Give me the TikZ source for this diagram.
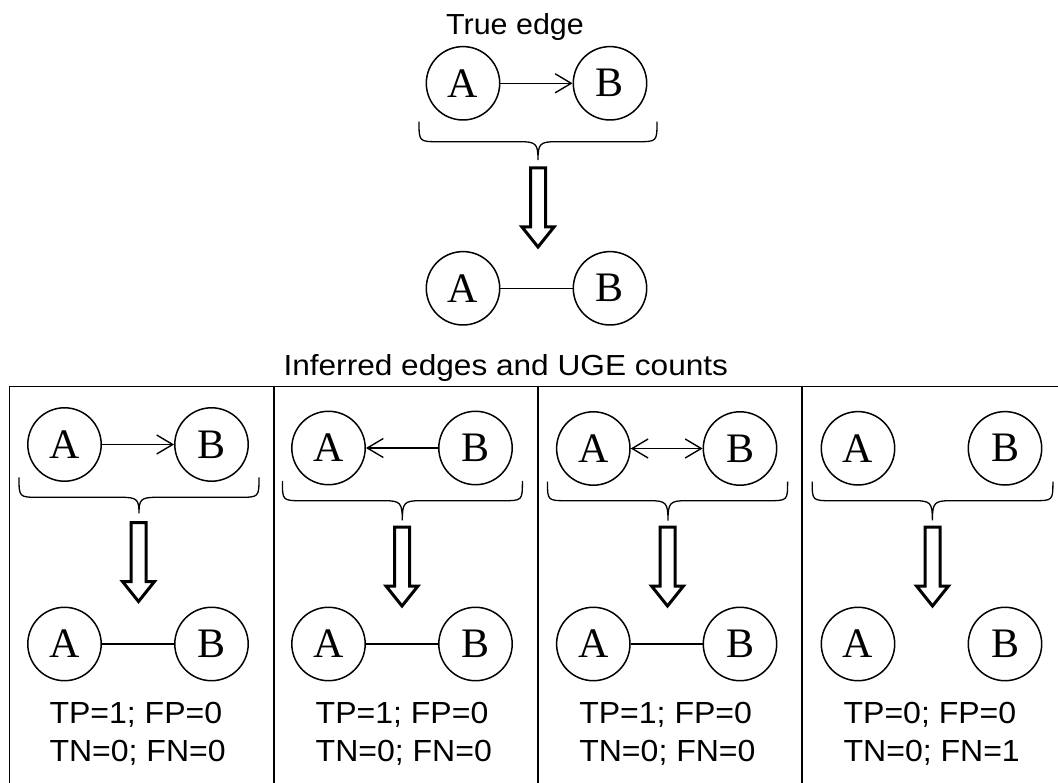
\documentclass[tikz,border=0pt]{standalone}
\usepackage{fontspec}
\setmainfont{Liberation Serif}
\newfontfamily\labelsans{Liberation Sans}
\usetikzlibrary{arrows.meta}
\newcommand\hstretch[2]{\scalebox{#1}[1]{#2}}
% curly brace opening downwards: left x, tip x, right x, end y, bar y, tip y
\newcommand\downbrace[6]{%
  \draw[brace] (#1,#4) .. controls (#1,#5) and (#1,#5) .. (#1+20,#5)
    -- (#2-18,#5) .. controls (#2-2,#5) and (#2,#5+2) .. (#2,#6)
    .. controls (#2,#5+2) and (#2+2,#5) .. (#2+18,#5)
    -- (#3-20,#5) .. controls (#3,#5) and (#3,#5) .. (#3,#4);}
\tikzset{
  var/.style={circle, draw, line width=1.5pt, minimum size=73.4pt, inner sep=0pt,
    font=\fontsize{42}{42}\selectfont},
  link/.style={line width=1.4pt},
  >={Straight Barb[length=16pt,width=19pt]},
  brace/.style={line width=1.3pt},
  frame/.style={line width=1.4pt},
  bigdown/.pic={\draw[line width=3pt, miter limit=10]
    (-7.5,0) -- (7.5,0) -- (7.5,59) -- (16,59) -- (0,79) -- (-16,59) -- (-7.5,59) -- cycle;},
  caption/.style={font=\labelsans\fontsize{29}{29}\selectfont, inner sep=0pt, anchor=base},
  count/.style={font=\labelsans\fontsize{30.5}{30.5}\selectfont, inner sep=0pt, anchor=base west},
}
\begin{document}
\begin{tikzpicture}[x=1pt, y=-1pt]
\useasboundingbox (0,0) rectangle (1058,783);
\clip (0,0) rectangle (1058,783);

% ---- true edge ----
\node[caption] (truecap) at (515,35) {\hstretch{1.05}{True edge}};
\node[var] (tA) at (463,83.3) {A};
\node[var] (tB) at (610,83.3) {B};
\draw[link,->] (tA) -- (tB);
\downbrace{419}{538}{657}{121.7}{141.7}{160}
\pic at (538,168) {bigdown};
\node[var] (uA) at (463,288.3) {A};
\node[var] (uB) at (610,288.3) {B};
\draw[link] (uA) -- (uB);

% ---- inferred edges ----
\node[caption] (infcap) at (505.8,375.7) {\hstretch{1.09}{Inferred edges and UGE counts}};
\draw[frame] (9.3,386.7) -- (1070,386.7);
\draw[frame] (9.3,386.7) -- (9.3,800);
\draw[frame] (274,386.7) -- (274,800);
\draw[frame] (538,386.7) -- (538,800);
\draw[frame] (802,386.7) -- (802,800);

% panel 1: A -> B
\node[var] (p1A) at (64.5,444.5) {A};
\node[var] (p1B) at (211.5,444.5) {B};
\draw[link,->] (p1A) -- (p1B);
\downbrace{19}{139}{259}{477.3}{497.3}{513.3}
\pic at (138.5,522.5) {bigdown};
\node[var] (q1A) at (64.5,644) {A};
\node[var] (q1B) at (211.5,644) {B};
\draw[link] (q1A) -- (q1B);
\node[count] (c1a) at (49.3,723.3) {\hstretch{1.05}{TP=1; FP=0}};
\node[count] (c1b) at (49.3,761.7) {\hstretch{1.05}{TN=0; FN=0}};

% panel 2: A <- B
\node[var] (p2A) at (328.5,448) {A};
\node[var] (p2B) at (475.5,448) {B};
\draw[link,<-] (p2A) -- (p2B);
\downbrace{282.4}{402.3}{522.4}{481}{500.7}{520.3}
\pic at (402,527) {bigdown};
\node[var] (q2A) at (328.5,644) {A};
\node[var] (q2B) at (475.5,644) {B};
\draw[link] (q2A) -- (q2B);
\node[count] (c2a) at (315.5,723.3) {\hstretch{1.05}{TP=1; FP=0}};
\node[count] (c2b) at (315.5,761.7) {\hstretch{1.05}{TN=0; FN=0}};

% panel 3: A <-> B
\node[var] (p3A) at (593.3,448.5) {A};
\node[var] (p3B) at (740,448.5) {B};
\draw[link,<->] (p3A) -- (p3B);
\downbrace{547.5}{668}{787.6}{481.7}{500.7}{520.5}
\pic at (667.5,527) {bigdown};
\node[var] (q3A) at (593.3,644) {A};
\node[var] (q3B) at (740,644) {B};
\draw[link] (q3A) -- (q3B);
\node[count] (c3a) at (579.1,723.3) {\hstretch{1.05}{TP=1; FP=0}};
\node[count] (c3b) at (579.1,761.7) {\hstretch{1.05}{TN=0; FN=0}};

% panel 4: no edge
\node[var] (p4A) at (858,448.3) {A};
\node[var] (p4B) at (1005,448.3) {B};
\downbrace{812.2}{932.4}{1052.9}{481.7}{500.7}{520.3}
\pic at (932.5,527) {bigdown};
\node[var] (q4A) at (858,644) {A};
\node[var] (q4B) at (1005,644) {B};
\node[count] (c4a) at (843.4,723.3) {\hstretch{1.05}{TP=0; FP=0}};
\node[count] (c4b) at (843.4,761.7) {\hstretch{1.05}{TN=0; FN=1}};
\end{tikzpicture}
\end{document}
